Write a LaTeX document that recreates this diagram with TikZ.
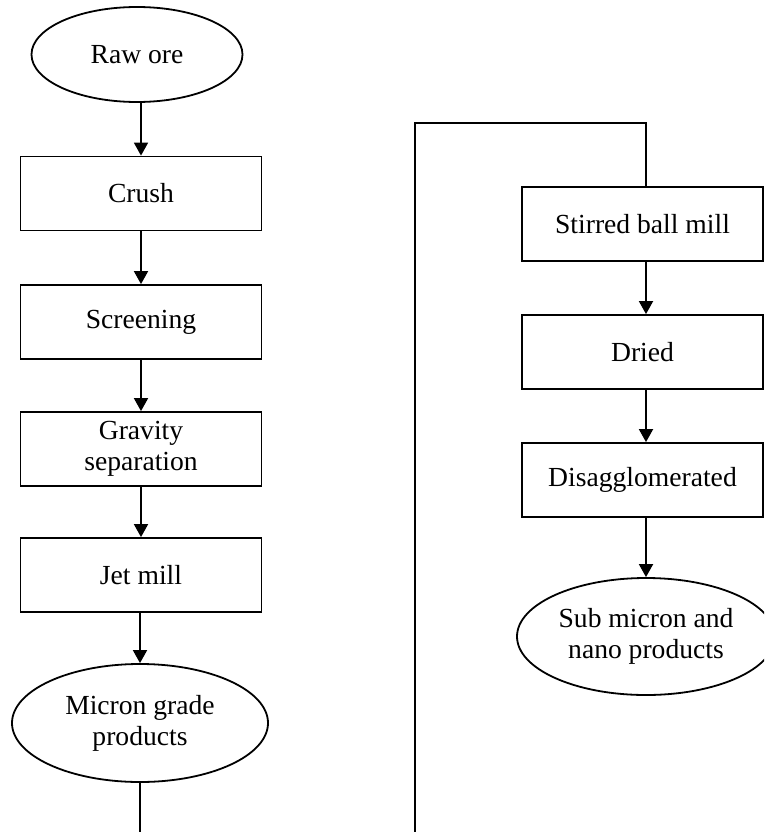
\documentclass[tikz,border=0pt]{standalone}
\usepackage{fontspec}
\setmainfont{Liberation Serif}
\usetikzlibrary{shapes.geometric,arrows.meta}
\tikzset{
  base/.style={draw=black, line width=1.8pt, inner sep=0pt, align=center,
    font=\fontsize{27.6}{31}\selectfont},
  procbox/.style={base, rectangle, minimum width=241pt, minimum height=74pt},
  termell/.style={base, ellipse},
  arr/.style={line width=1.8pt, -{Triangle[width=14pt,length=13pt]}},
  ln/.style={line width=1.8pt}
}
\begin{document}
\begin{tikzpicture}[x=1pt,y=-1pt]
\path[use as bounding box] (0,0) rectangle (764,832);
\clip (0,0) rectangle (764,832);
% left column
\node[termell, minimum width=211pt, minimum height=95pt] (raw) at (137,54.5) {Raw ore};
\node[procbox] (crush) at (141,193.5) {Crush};
\node[procbox] (screen) at (141,322) {Screening};
\node[procbox] (grav) at (141,449) {Gravity\\separation};
\node[procbox] (jet) at (141,575) {Jet mill};
\node[termell, minimum width=256pt, minimum height=118pt] (micron) at (140,723) {Micron grade\\products};
% right column
\node[procbox] (stir) at (642.5,224) {Stirred ball mill};
\node[procbox] (dried) at (642.5,352) {Dried};
\node[procbox] (disag) at (642.5,480) {Disagglomerated};
\node[termell, minimum width=258pt, minimum height=117pt] (sub) at (646,636.5) {Sub micron and\\nano products};
% arrows
\draw[arr] (raw.south -| crush.north) -- (crush.north);
\draw[arr] (crush) -- (screen);
\draw[arr] (screen) -- (grav);
\draw[arr] (grav) -- (jet);
\draw[arr] (jet.south -| micron.north) -- (micron.north);
\draw[arr] (stir.south -| 646,0) -- (dried.north -| 646,0);
\draw[arr] (dried.south -| 646,0) -- (disag.north -| 646,0);
\draw[arr] (disag.south -| sub.north) -- (sub.north);
% loop connector
\coordinate (b1) at (140,840);
\coordinate (b2) at (415,840);
\coordinate (t1) at (415,123);
\coordinate (t2) at (646,123);
\draw[ln] (micron.south) -- (b1) -- (b2) -- (t1) -- (t2) -- (stir.north -| t2);
\end{tikzpicture}
\end{document}
